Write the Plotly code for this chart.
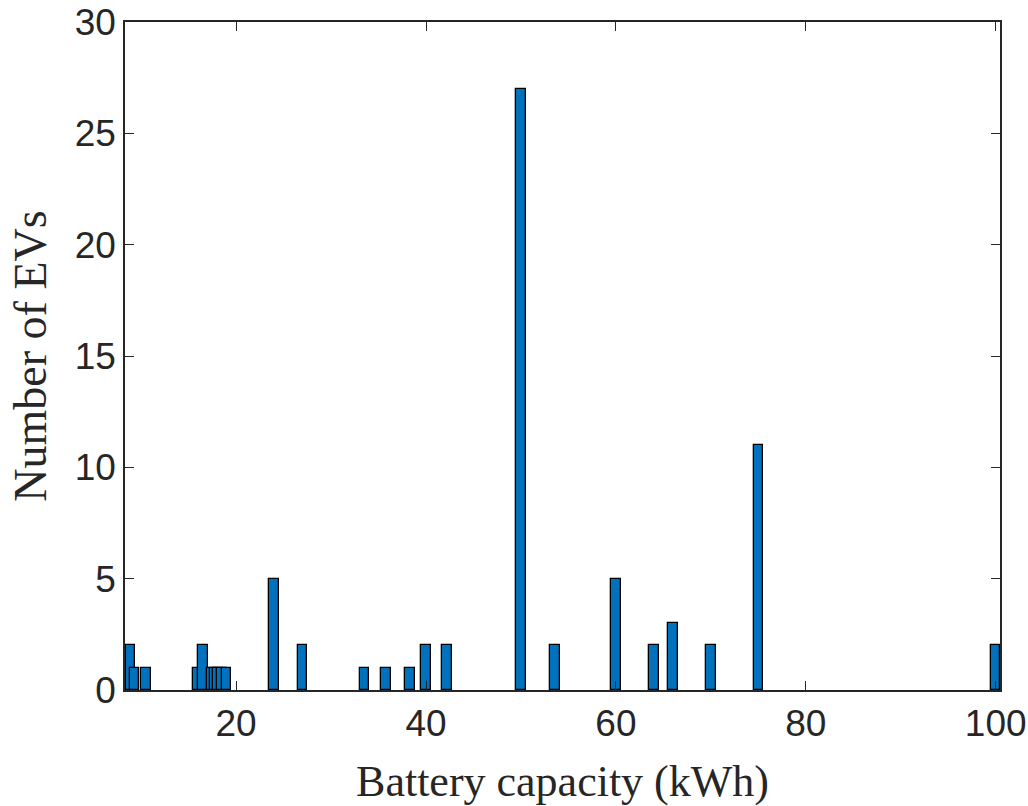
import plotly.graph_objects as go

capacity_kwh = [8.9, 9.3, 10.5, 16.0, 16.5, 17.4, 17.8, 18.1, 18.5, 19.0,
                24.0, 27.0, 33.5, 35.8, 38.3, 40.0, 42.2,
                50.0, 53.6, 60.0, 64.0, 66.0, 70.0, 75.0, 100.0]
num_evs = [2, 1, 1, 1, 2, 1, 1, 1, 1, 1,
           5, 2, 1, 1, 1, 2, 2,
           27, 2, 5, 2, 3, 2, 11, 2]
x_ticks = [20, 40, 60, 80, 100]
y_ticks = [0, 5, 10, 15, 20, 25, 30]

fig = go.Figure(go.Bar(
    x=capacity_kwh, y=num_evs, width=1.0,
    marker=dict(color="#0072BD", line=dict(color="#000000", width=1.3)),
))

axis_common = dict(
    showline=True, linecolor="#262626", linewidth=1.5, mirror="ticks",
    ticks="inside", ticklen=9, tickwidth=1.3, tickcolor="#262626",
    showgrid=False, zeroline=False, automargin=False,
    tickfont=dict(family="Liberation Sans, Arial, sans-serif", size=37, color="#262626"),
)

fig.update_layout(
    width=1028, height=806,
    margin=dict(l=125, r=28, t=22, b=116),
    paper_bgcolor="white", plot_bgcolor="white",
    barmode="overlay", bargap=0, showlegend=False,
    xaxis=dict(range=[8.3, 100.45], tickvals=x_ticks,
               title=dict(text="Battery capacity (kWh)", standoff=22,
                          font=dict(family="Liberation Serif, Times New Roman, serif", size=44, color="#262626")),
               **axis_common),
    yaxis=dict(range=[0, 30], tickvals=y_ticks,
               title=dict(text="Number of EVs", standoff=14,
                          font=dict(family="Liberation Serif, Times New Roman, serif", size=46, color="#262626")),
               **axis_common),
)

fig.write_html("out.html")
